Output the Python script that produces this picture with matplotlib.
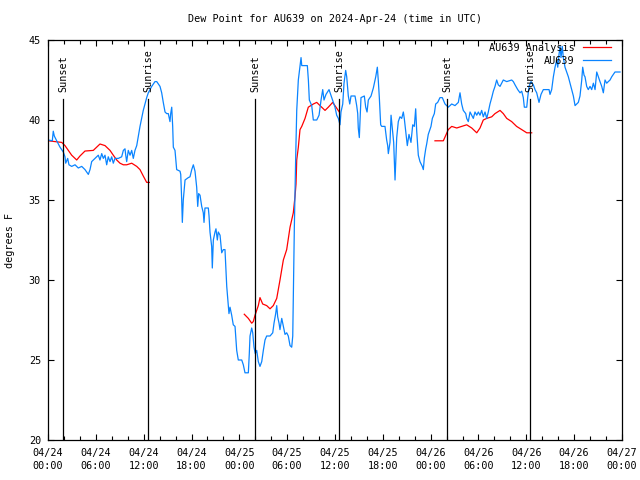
import numpy as np
import matplotlib
matplotlib.use("Agg")
import matplotlib.pyplot as plt
from matplotlib.ticker import FixedLocator, MultipleLocator

# ---------------- data ----------------
# observed dew point (AU639), hours since 2024-04-24 00:00 UTC
obs_hours = [0.04, 0.54, 0.66, 0.79, 1.09, 1.51, 1.92, 2.13, 2.22, 2.47, 2.63, 2.97, 3.39, 3.80, 4.23,
             4.64, 5.06, 5.27, 5.48, 5.90, 6.31, 6.52, 6.74, 6.94, 7.15, 7.36, 7.56, 7.78, 7.99, 8.19,
             8.40, 8.82, 9.24, 9.45, 9.66, 9.75, 9.87, 10.07, 10.29, 10.50, 10.70, 10.91, 11.13, 11.33,
             11.54, 11.75, 11.95, 12.17, 12.38, 12.58, 13.01, 13.42, 13.64, 14.05, 14.26, 14.46, 14.68,
             14.89, 15.09, 15.22, 15.30, 15.39, 15.52, 15.64, 15.72, 15.93, 16.14, 16.56, 16.65, 16.77,
             16.85, 16.97, 17.19, 17.60, 17.81, 18.03, 18.23, 18.44, 18.65, 18.78, 18.90, 19.07, 19.28,
             19.48, 19.57, 19.69, 20.11, 20.20, 20.32, 20.53, 20.61, 20.74, 20.95, 21.07, 21.24, 21.36,
             21.58, 21.79, 21.99, 22.20, 22.42, 22.62, 22.70, 22.83, 23.04, 23.24, 23.46, 23.67, 23.87,
             24.30, 24.50, 24.71, 25.13, 25.25, 25.34, 25.55, 25.68, 25.84, 26.00, 26.18, 26.38, 26.59,
             26.81, 27.01, 27.22, 27.43, 27.85, 28.19, 28.35, 28.56, 28.69, 28.81, 28.98, 29.10, 29.32,
             29.52, 29.73, 29.94, 30.14, 30.36, 30.57, 30.70, 30.77, 30.90, 31.07, 31.20, 31.40, 31.61,
             31.74, 31.83, 32.53, 32.66, 32.78, 33.08, 33.28, 33.71, 34.00, 34.25, 34.46, 34.62, 34.87,
             35.25, 35.59, 35.79, 36.00, 36.21, 36.42, 36.63, 36.75, 36.97, 37.13, 37.34, 37.47, 37.67,
             37.85, 38.01, 38.51, 38.72, 38.85, 38.92, 39.05, 39.26, 39.68, 39.85, 40.02, 40.18, 40.52,
             40.81, 41.11, 41.31, 41.44, 41.56, 41.73, 41.86, 42.27, 42.48, 42.61, 42.69, 42.90, 43.03,
             43.19, 43.36, 43.53, 43.65, 43.74, 43.94, 44.15, 44.37, 44.57, 44.69, 44.87, 45.07, 45.28,
             45.53, 45.75, 45.95, 46.12, 46.25, 46.45, 46.66, 46.95, 47.08, 47.20, 47.38, 47.50, 47.70,
             48.04, 48.21, 48.46, 48.63, 48.88, 49.17, 49.46, 49.80, 50.01, 50.21, 50.64, 51.05, 51.47,
             51.68, 51.89, 52.09, 52.40, 52.52, 52.72, 52.94, 53.15, 53.35, 53.56, 53.78, 53.98, 54.19,
             54.40, 54.60, 54.82, 55.03, 55.23, 55.44, 55.66, 55.86, 56.07, 56.28, 56.48, 56.70, 56.91,
             57.11, 57.54, 58.16, 58.37, 58.58, 58.92, 59.21, 59.42, 59.62, 59.75, 60.05, 60.17, 60.34,
             60.59, 60.88, 61.09, 61.30, 61.59, 61.84, 62.13, 62.85, 62.97, 63.18, 63.39, 63.60, 63.81,
             63.94, 64.10, 64.23, 64.35, 64.51, 64.64, 64.85, 65.06, 65.27, 65.48, 65.69, 65.90, 66.11,
             66.32, 66.52, 66.73, 66.95, 67.07, 67.24, 67.36, 67.57, 67.77, 67.99, 68.20, 68.41, 68.62,
             68.83, 69.03, 69.24, 69.46, 69.66, 69.87, 70.08, 70.28, 70.50, 70.71, 71.12, 71.75]
obs_dewpt = [38.75, 38.7, 39.3, 39.0, 38.7, 38.3, 38.0, 37.7, 37.3, 37.6, 37.2, 37.1, 37.2, 37.0, 37.1,
             36.9, 36.6, 36.9, 37.4, 37.6, 37.8, 37.5, 37.9, 37.6, 37.8, 37.2, 37.7, 37.4, 37.7, 37.3,
             37.6, 37.6, 37.7, 38.1, 38.2, 37.8, 37.4, 38.1, 37.8, 38.1, 37.6, 38.1, 38.4, 39.0,
             39.6, 40.1, 40.6, 41.0, 41.4, 41.7, 42.1, 42.4, 42.4, 42.1, 41.7, 41.1, 40.5,
             40.4, 40.4, 40.1, 39.9, 40.4, 40.8, 39.6, 38.3, 38.1, 36.9, 36.8, 36.6, 35.0,
             33.6, 35.0, 36.25, 36.4, 36.45, 36.9, 37.2, 36.8, 35.8, 34.6, 35.4, 35.3, 34.6,
             34.2, 33.6, 34.5, 34.5, 34.0, 33.0, 32.1, 30.75, 32.5, 33.0, 33.2, 32.5, 33.0,
             32.8, 31.7, 31.9, 31.9, 29.6, 28.4, 27.9, 28.3, 27.8, 27.2, 27.1, 25.6, 25.0,
             25.0, 24.7, 24.2, 24.2, 25.4, 26.5, 27.0, 26.7, 25.8, 25.4, 25.6, 24.9, 24.6,
             24.9, 25.6, 26.25, 26.5, 26.5, 26.7, 27.3, 27.9, 28.4, 27.7, 27.3, 26.9, 27.6,
             27.1, 26.6, 26.7, 26.5, 25.9, 25.8, 26.5, 29.0, 33.3, 37.7, 40.6, 42.5, 43.4,
             43.9, 43.4, 43.4, 42.5, 41.25, 40.9, 40.0, 40.0, 40.3, 41.25, 41.9, 41.25, 41.6,
             41.9, 41.4, 41.1, 40.8, 40.3, 40.1, 39.7, 40.5, 41.0, 42.3, 43.1, 42.7, 41.5,
             41.0, 41.5, 41.5, 40.9, 40.4, 39.5, 38.9, 41.4, 41.5, 40.8, 40.5, 41.25, 41.5,
             42.0, 42.7, 43.3, 42.4, 41.4, 39.7, 39.6, 39.6, 38.75, 38.4, 37.9, 38.6, 40.3,
             39.5, 38.6, 36.25, 37.8, 38.9, 39.9, 40.2, 40.1, 40.5, 40.1, 39.3, 38.4, 39.1,
             38.6, 39.7, 39.6, 40.7, 39.3, 37.8, 37.4, 37.1, 36.9, 37.6, 38.2, 38.5, 39.1,
             39.6, 40.1, 40.4, 41.0, 41.1, 41.4, 41.4, 41.0, 40.9, 40.8, 41.0, 40.9, 41.1,
             41.7, 41.0, 40.6, 40.4, 40.1, 39.9, 40.5, 40.3, 40.1, 40.5, 40.3, 40.5, 40.3,
             40.6, 40.2, 40.5, 40.1, 40.5, 41.0, 41.4, 41.8, 42.1, 42.5, 42.2, 42.1, 42.3,
             42.5, 42.4, 42.5, 42.4, 42.2, 41.9, 41.7, 41.8, 41.4, 40.8, 40.8, 41.4, 42.1,
             42.4, 42.2, 41.9, 41.7, 41.1, 41.6, 41.9, 41.9, 41.6, 41.9, 42.7, 43.3, 43.75,
             43.3, 44.1, 44.6, 43.9, 44.6, 43.9, 43.3, 43.0, 42.7, 42.3, 41.9, 41.5, 40.9,
             41.0, 41.1, 41.5, 42.5, 43.3, 42.8, 42.7, 42.1, 41.9, 42.1, 41.9, 42.3, 41.9,
             43.0, 42.7, 42.4, 42.1, 41.7, 42.5, 42.3, 42.4, 42.5, 42.7, 43.0, 43.0]

# analysis dew point (gaps marked with nan)
ana_hours = [0.04, 1.72, 2.13, 2.55, 2.97, 3.60, 4.01, 4.64, 5.68, 6.52, 7.15, 7.78, 8.19, 8.62, 9.03,
             9.45, 9.87, 10.50, 11.13, 11.54, 11.95, 12.38, 12.71, 18.0,
             24.62, 25.13, 25.55, 25.75, 25.97, 26.38, 26.59, 26.93, 27.43, 27.85, 28.26, 28.69, 29.10,
             29.52, 29.94, 30.36, 30.77, 30.98, 31.11, 31.20, 31.40, 31.61, 31.83, 32.24, 32.65, 33.28,
             33.71, 34.12, 34.75, 35.16, 35.71, 36.13, 36.54, 42.0,
             48.54, 49.59, 50.21, 50.64, 51.27, 51.89, 52.52, 53.15, 53.78, 54.19, 54.60, 55.03, 55.66,
             56.07, 56.70, 57.11, 57.54, 58.16, 58.78, 59.42, 60.05, 60.67]
ana_dewpt = [38.7, 38.6, 38.4, 38.1, 37.8, 37.5, 37.75, 38.06, 38.1, 38.5, 38.4, 38.1, 37.8, 37.5, 37.3,
             37.2, 37.2, 37.3, 37.1, 36.9, 36.5, 36.1, 36.1, np.nan,
             27.86, 27.6, 27.3, 27.4, 27.8, 28.4, 28.9, 28.5, 28.4, 28.2, 28.4, 28.85, 30.0,
             31.25, 31.9, 33.3, 34.2, 35.2, 36.0, 37.5, 38.3, 39.4, 39.6, 40.1, 40.8, 41.0,
             41.1, 40.9, 40.6, 40.8, 41.1, 40.8, 40.5, np.nan,
             38.7, 38.7, 39.4, 39.6, 39.5, 39.6, 39.7, 39.5, 39.2, 39.5, 40.0, 40.1, 40.2,
             40.4, 40.6, 40.4, 40.1, 39.9, 39.6, 39.4, 39.2, 39.2]

sun_hours = [1.88, 12.54, 25.97, 36.50, 50.05, 60.46]
sun_labels = ["Sunset", "Sunrise", "Sunset", "Sunrise", "Sunset", "Sunrise"]

xtick_hours = [0, 6, 12, 18, 24, 30, 36, 42, 48, 54, 60, 66, 72]
xtick_labels = ["04/24\n00:00", "04/24\n06:00", "04/24\n12:00", "04/24\n18:00",
                "04/25\n00:00", "04/25\n06:00", "04/25\n12:00", "04/25\n18:00",
                "04/26\n00:00", "04/26\n06:00", "04/26\n12:00", "04/26\n18:00",
                "04/27\n00:00"]
yticks = [20, 25, 30, 35, 40, 45]

# ---------------- plot ----------------
plt.rcParams['font.family'] = ['DejaVu Sans Mono']
plt.rcParams['font.size'] = 7.3

fig = plt.figure(figsize=(6.4, 4.8), dpi=100)
ax = fig.add_axes([48 / 640, 40 / 480, (622 - 48) / 640, 400 / 480])

ax.plot(ana_hours, ana_dewpt, color='#ff0000', lw=0.9, label='AU639 Analysis')
ax.plot(obs_hours, obs_dewpt, color='#0a84ff', lw=0.9, label='AU639')

for h, lab in zip(sun_hours, sun_labels):
    ax.plot([h, h], [20, 41.31], color='black', lw=0.9)
    ax.text(h, 41.75, lab, rotation=90, ha='center', va='bottom')

ax.set_xlim(0, 72)
ax.set_ylim(20, 45)
ax.xaxis.set_major_locator(FixedLocator(xtick_hours))
ax.set_xticklabels(xtick_labels, linespacing=1.35)
ax.xaxis.set_minor_locator(MultipleLocator(2))
ax.set_yticks(yticks)
ax.tick_params(which='both', direction='in', top=True, right=True, length=4, width=0.8, pad=5)
ax.tick_params(axis='x', pad=6)
ax.tick_params(which='minor', length=3)
for s in ax.spines.values():
    s.set_linewidth(0.9)

ax.set_ylabel('degrees F')
ax.yaxis.set_label_coords(-(48 - 15) / 574, 0.5)

fig.text(335 / 640, 1 - 19 / 480, 'Dew Point for AU639 on 2024-Apr-24 (time in UTC)',
         ha='center', va='center')

ax.legend(loc='upper right', bbox_to_anchor=(611 / 640, 1 - 43 / 480), bbox_transform=fig.transFigure,
          frameon=False, markerfirst=False, handlelength=2.8, handletextpad=0.8,
          labelspacing=0.3, borderpad=0, borderaxespad=0, fontsize=7.3)

fig.savefig('out.png', dpi=100)
